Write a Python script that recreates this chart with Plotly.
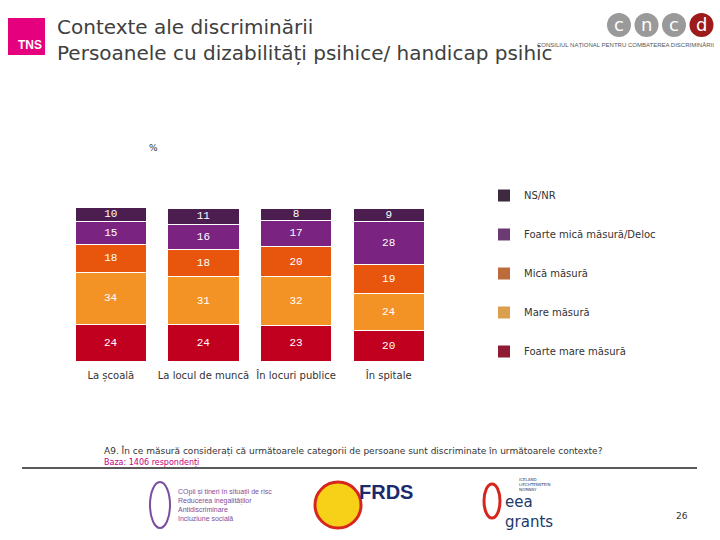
import plotly.graph_objects as go

categories = ["La școală", "La locul de muncă", "În locuri publice", "În spitale"]
series_names = ["Foarte mare măsură", "Mare măsură", "Mică măsură",
                "Foarte mică măsură/Deloc", "NS/NR"]
foarte_mare = [24, 24, 23, 20]
mare = [34, 31, 32, 24]
mica = [18, 18, 20, 19]
foarte_mica = [15, 16, 17, 28]
ns_nr = [10, 11, 8, 9]
series_values = [foarte_mare, mare, mica, foarte_mica, ns_nr]
colors = ["#C1001F", "#F39325", "#E8560D", "#7A2380", "#4C1E50"]
legend_colors = ["#8E1A33", "#DBA04E", "#BC6B3C", "#6C3A72", "#3E2A3F"]

fig = go.Figure()
for name, vals, col in zip(series_names, series_values, colors):
    fig.add_trace(go.Bar(
        x=categories, y=vals, name=name, showlegend=False,
        marker=dict(color=col, line=dict(color="white", width=1)),
        text=[str(v) for v in vals], textposition="inside",
        insidetextanchor="middle", textangle=0, constraintext="none",
        textfont=dict(family="Liberation Mono", size=11, color="white"),
        hoverinfo="skip",
    ))

# legend entries (small square markers, like the reference)
for rank, (name, col) in enumerate(zip(series_names, legend_colors)):
    fig.add_trace(go.Scatter(
        x=[None], y=[None], mode="markers", name=name, legendgroup=name,
        legendrank=10 - rank,
        marker=dict(symbol="square", size=5, color=col), hoverinfo="skip",
    ))

fig.update_layout(
    width=720, height=540, barmode="stack", bargap=0.23,
    margin=dict(l=0, r=0, t=0, b=0),
    paper_bgcolor="white", plot_bgcolor="white",
    font=dict(family="DejaVu Sans", size=10, color="#333333"),
    xaxis=dict(domain=[64.5 / 720, 435 / 720], showgrid=False, showline=False,
               zeroline=False, ticks="", tickfont=dict(size=10, color="#333333"),
               ticklabelstandoff=7, fixedrange=True),
    yaxis=dict(domain=[1 - 361 / 540, 1 - 208 / 540], range=[0, 100],
               visible=False, fixedrange=True),
    legend=dict(x=484 / 720, y=1 - 181 / 540, xanchor="left", yanchor="top",
                traceorder="grouped", tracegroupgap=20,
                font=dict(size=10, color="#333333"), itemwidth=30,
                itemsizing="constant", bgcolor="rgba(0,0,0,0)"),
    showlegend=True,
)

shapes = []
annotations = []

# TNS logo
shapes.append(dict(type="rect", xref="paper", yref="paper", layer="below",
                   x0=8 / 720, x1=45 / 720, y0=1 - 55 / 540, y1=1 - 18 / 540,
                   fillcolor="#E5007E", line=dict(width=0)))
annotations.append(dict(text="<b>TNS</b>", x=44 / 720, y=1 - 54 / 540,
                        xref="paper", yref="paper", xanchor="right", yanchor="bottom",
                        showarrow=False, font=dict(family="Liberation Sans Narrow, Liberation Sans", size=12, color="white")))

# Title
annotations.append(dict(text="Contexte ale discriminării<br>Persoanele cu dizabilități psihice/ handicap psihic",
                        x=55 / 720, y=1 - 40 / 540, xref="paper", yref="paper",
                        xanchor="left", yanchor="middle", align="left", showarrow=False,
                        font=dict(family="DejaVu Sans", size=20, color="#404040")))

# CNCD logo
for i, (letter, col) in enumerate(zip(["c", "n", "c", "d"], ["#9A9A9A", "#9A9A9A", "#9A9A9A", "#9E1B1B"])):
    cx = 619 + i * 27.5
    shapes.append(dict(type="circle", xref="paper", yref="paper", layer="below",
                       x0=(cx - 12) / 720, x1=(cx + 12) / 720,
                       y0=1 - 37 / 540, y1=1 - 13 / 540,
                       fillcolor=col, line=dict(width=0)))
    annotations.append(dict(text=letter, x=cx / 720, y=1 - 37 / 540, xref="paper", yref="paper",
                            xanchor="center", yanchor="bottom", showarrow=False,
                            font=dict(family="DejaVu Sans", size=18, color="#FFFFFF")))
annotations.append(dict(text="CONSILIUL NAȚIONAL PENTRU COMBATEREA DISCRIMINĂRII",
                        x=716 / 720, y=1 - 45 / 540, xref="paper", yref="paper",
                        xanchor="right", yanchor="middle", showarrow=False,
                        font=dict(family="Liberation Sans Narrow, Liberation Sans", size=6, color="#555555")))

# percent sign
annotations.append(dict(text="%", x=147 / 720, y=1 - 141 / 540, xref="paper", yref="paper",
                        showarrow=False, font=dict(size=9, color="#333333")))

# Footnote
annotations.append(dict(text="A9. În ce măsură considerați că următoarele categorii de persoane sunt discriminate în următoarele contexte?",
                        x=102 / 720, y=1 - 451 / 540, xref="paper", yref="paper",
                        xanchor="left", yanchor="middle", showarrow=False,
                        font=dict(size=9, color="#333333")))
annotations.append(dict(text="Baza: 1406 respondenți",
                        x=102 / 720, y=1 - 463 / 540, xref="paper", yref="paper",
                        xanchor="left", yanchor="middle", showarrow=False,
                        font=dict(size=8, color="#C0007F")))
shapes.append(dict(type="line", xref="paper", yref="paper",
                   x0=22 / 720, x1=697 / 720, y0=1 - 468 / 540, y1=1 - 468 / 540,
                   line=dict(color="#222222", width=1.5)))

# Bottom logos (approximated)
shapes.append(dict(type="circle", xref="paper", yref="paper", layer="below",
                   x0=150 / 720, x1=170 / 720, y0=1 - 528 / 540, y1=1 - 482 / 540,
                   fillcolor="rgba(0,0,0,0)", line=dict(color="#7B4F9E", width=2)))
annotations.append(dict(text="COpii și tineri în situații de risc<br>Reducerea inegalităților<br>Antidiscriminare<br>Incluziune socială",
                        x=176 / 720, y=1 - 505 / 540, xref="paper", yref="paper",
                        xanchor="left", yanchor="middle", align="left", showarrow=False,
                        font=dict(family="Liberation Sans Narrow, Liberation Sans", size=7, color="#7B4F9E")))
shapes.append(dict(type="circle", xref="paper", yref="paper", layer="below",
                   x0=315 / 720, x1=361 / 720, y0=1 - 528 / 540, y1=1 - 482 / 540,
                   fillcolor="#F7D117", line=dict(color="#D7261E", width=3)))
annotations.append(dict(text="<b>FRDS</b>", x=386 / 720, y=1 - 505 / 540, xref="paper", yref="paper",
                        showarrow=False, font=dict(family="Liberation Sans Narrow, Liberation Sans", size=20, color="#1B2A6B")))
annotations.append(dict(text="eea<br>grants", x=503 / 720, y=1 - 512 / 540, xref="paper", yref="paper",
                        xanchor="left", yanchor="middle", align="left", showarrow=False,
                        font=dict(family="DejaVu Sans", size=15, color="#1B3A6B")))
annotations.append(dict(text="ICELAND<br>LIECHTENSTEIN<br>NORWAY", x=517 / 720, y=1 - 484 / 540,
                        xref="paper", yref="paper", xanchor="left", yanchor="middle", align="left",
                        showarrow=False, font=dict(size=4, color="#1B3A6B")))
shapes.append(dict(type="circle", xref="paper", yref="paper", layer="below",
                   x0=484 / 720, x1=500 / 720, y0=1 - 518 / 540, y1=1 - 484 / 540,
                   fillcolor="rgba(0,0,0,0)", line=dict(color="#D7261E", width=3)))

# page number
annotations.append(dict(text="26", x=690 / 720, y=1 - 523 / 540, xref="paper", yref="paper",
                        showarrow=False, font=dict(size=9, color="#333333")))

fig.update_layout(shapes=shapes, annotations=annotations)
fig.write_html("out.html", config={"displayModeBar": False},
               post_script="document.body.style.margin='0';")
